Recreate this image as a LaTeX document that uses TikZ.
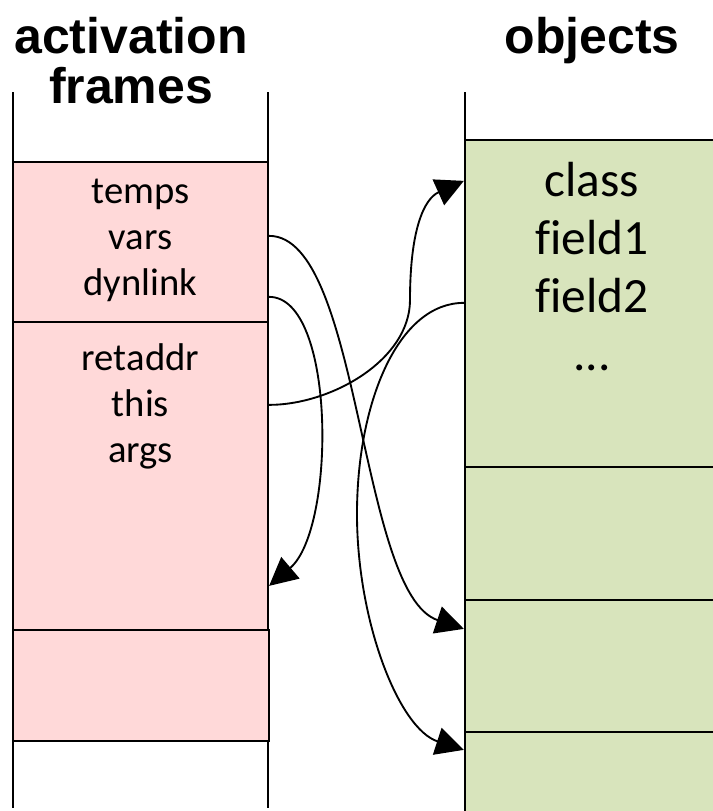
\documentclass[tikz,border=0pt]{standalone}
\usepackage{fontspec}
\setmainfont{Carlito}[Ligatures=CommonOff]
\newfontfamily\headfont{Liberation Sans}
\usetikzlibrary{arrows.meta,fit,calc}
\definecolor{clrFrame}{RGB}{255,217,217}
\definecolor{clrObj}{RGB}{216,228,188}
\tikzset{
  heading/.style={font=\headfont\bfseries\fontsize{37.5}{37.5}\selectfont,align=center,inner sep=0pt},
  framebox/.style={rectangle,draw=black,line width=1.7pt,fill=clrFrame,inner sep=0pt},
  objbox/.style={rectangle,draw=black,line width=1.7pt,fill=clrObj,inner sep=0pt},
  slotlist/.style={font=\fontsize{29}{34.5}\selectfont,align=center,inner sep=0pt},
  fieldlist/.style={font=\fontsize{37}{43.5}\selectfont,align=center,inner sep=0pt},
  rail/.style={line width=1.6pt},
  ptr/.style={-{Triangle[length=21pt,width=21pt]},line width=1.4pt}
}

\begin{document}
\begin{tikzpicture}[x=0.75pt,y=-0.75pt]
  \useasboundingbox (0,0) rectangle (713,811);
  % stack and heap walls
  \draw[rail] (13,92) -- (13,808);
  \draw[rail] (268,92) -- (268,808);
  \draw[rail] (465,92) -- (465,811);
  % activation frames
  \node[framebox,fit={(13,162) (268,322)}] (fr1) {};
  \node[framebox,fit={(13,322) (268,630)}] (fr2) {};
  \node[framebox,fit={(13,630) (269,741)}] (fr3) {};
  % objects
  \node[objbox,fit={(465,140) (730,467)}] (ob1) {};
  \node[objbox,fit={(465,467) (730,600)}] (ob2) {};
  \node[objbox,fit={(465,600) (730,732)}] (ob3) {};
  \node[objbox,fit={(465,732) (730,830)}] (ob4) {};
  \node[heading,anchor=base] (hfr) at (131,103) {activation\\frames};
  \node[heading,anchor=base] (hob) at (592,53) {objects};
  \node[slotlist,anchor=base] (slots1) at (140.5,295) {temps\\vars\\dynlink};
  \node[slotlist,anchor=base] (slots2) at (140.5,462) {retaddr\\this\\args};
  \node[fieldlist,anchor=base] (fields) at (592,370) {class\\field1\\field2\\...};
  % pointer ends
  \coordinate (pVars) at ($(fr1.north east)+(0,75)$);
  \coordinate (pDyn) at ($(fr1.north east)+(0,136)$);
  \coordinate (pThis) at ($(fr2.north east)+(0,84)$);
  \coordinate (pField) at ($(ob1.north west)+(0,164)$);
  \coordinate (tClass) at ($(ob1.north west)+(0,42)$);
  \coordinate (tFrame) at ($(fr2.north east)+(0,265)$);
  \coordinate (tObj3) at ($(ob3.north west)+(0,30)$);
  \coordinate (tObj4) at ($(ob4.north west)+(0,19)$);
  \draw[ptr] (pVars) .. controls +(92,0) and +(-105,-35) .. (tObj3);
  \draw[ptr] (pDyn) .. controls +(67,0) and +(67,-57) .. (tFrame);
  \draw[ptr] (pThis) .. controls +(62,0) and +(0,60) .. (410,300)
    .. controls +(0,-70) and +(-40,18) .. (tClass);
  \draw[ptr] (pField) .. controls +(-65,0) and +(1,-110) .. (357,510)
    .. controls +(-1,110) and +(-65,-21) .. (tObj4);
\end{tikzpicture}
\end{document}
